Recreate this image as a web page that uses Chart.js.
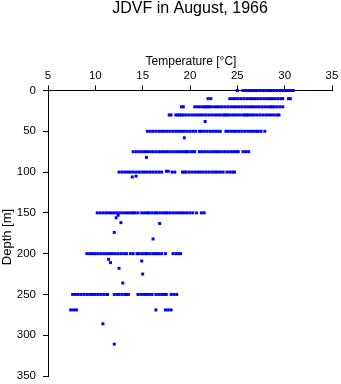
<!DOCTYPE html>
<html>
<head>
<meta charset="utf-8">
<script src="https://cdn.jsdelivr.net/npm/chart.js@4/dist/chart.umd.min.js"></script>
<style>
  body { margin: 0; background: #fff; }
</style>
</head>
<body>
<canvas id="chart" width="341" height="384"></canvas>
<script>
// temperature readings (deg C) at each sampled depth (m)
var depth0   = [25.0, 25.6, 25.9, 26.2, 26.5, 26.8, 27.1, 27.4, 27.7, 28.0, 28.3, 28.6, 28.9, 29.2, 29.5, 29.8, 30.1, 30.4, 30.7, 30.9]
var depth10  = [21.9, 22.2, 24.2, 24.5, 24.8, 25.1, 25.4, 25.7, 26.0, 26.3, 26.6, 26.9, 27.2, 27.5, 27.8, 28.1, 28.4, 28.7, 29.0, 29.3, 29.6, 29.8, 30.4, 30.6]
var depth20  = [19.1, 19.3, 20.5, 20.8, 21.1, 21.4, 21.6, 21.8, 22.0, 22.2, 22.5, 22.8, 23.1, 23.4, 23.7, 24.0, 24.3, 24.6, 24.9, 25.2, 25.5, 25.8, 26.1, 26.4, 26.7, 27.0, 27.3, 27.6, 27.9, 28.2, 28.5, 28.7, 28.9, 29.2, 29.5, 29.8]
var depth30  = [17.8, 18.0, 18.5, 18.7, 18.9, 19.1, 19.3, 19.6, 19.9, 20.2, 20.5, 20.8, 21.1, 21.4, 21.7, 22.0, 22.3, 22.6, 22.9, 23.2, 23.5, 23.7, 23.9, 24.1, 24.4, 24.7, 25.0, 25.3, 25.6, 25.8, 26.0, 26.2, 26.5, 26.8, 27.1, 27.4, 27.7, 28.0, 28.3, 28.6, 28.9, 29.2, 29.4]
var depth50  = [15.5, 15.8, 16.1, 16.4, 16.7, 17.0, 17.3, 17.6, 17.9, 18.2, 18.5, 18.8, 19.1, 19.4, 19.7, 20.0, 20.3, 20.6, 21.0, 21.2, 21.5, 21.8, 22.1, 22.4, 22.7, 23.0, 23.2, 23.8, 24.0, 24.3, 24.6, 24.9, 25.2, 25.5, 25.8, 26.1, 26.4, 26.7, 27.0, 27.2, 27.5, 27.9]
var depth75  = [14.0, 14.3, 14.6, 14.9, 15.2, 15.5, 15.8, 16.1, 16.4, 16.7, 17.0, 17.3, 17.6, 17.9, 18.2, 18.5, 18.8, 19.1, 19.4, 19.6, 19.8, 20.1, 20.3, 20.5, 21.0, 21.3, 21.6, 21.9, 22.2, 22.5, 22.8, 23.1, 23.4, 23.7, 24.0, 24.3, 24.6, 24.9, 25.1, 25.6, 25.9, 26.2]
var depth100 = [12.5, 12.8, 13.1, 13.4, 13.7, 14.0, 14.3, 14.6, 14.9, 15.2, 15.5, 15.8, 16.1, 16.4, 16.7, 17.0, 18.1, 18.4, 19.2, 19.4, 19.6, 19.9, 20.2, 20.5, 20.8, 21.1, 21.4, 21.7, 22.0, 22.3, 22.6, 22.9, 23.2, 23.5, 23.9, 24.2, 24.5, 24.7]
var depth150 = [10.2, 10.5, 10.8, 11.1, 11.4, 11.7, 12.0, 12.3, 12.6, 12.9, 13.2, 13.5, 13.8, 14.0, 14.2, 14.5, 14.9, 15.2, 15.5, 15.7, 16.0, 16.3, 16.5, 16.8, 17.1, 17.4, 17.6, 17.9, 18.2, 18.5, 18.8, 19.1, 19.4, 19.7, 20.0, 20.3, 20.7, 21.2, 21.5]
var depth200 = [9.1, 9.4, 9.7, 10.0, 10.3, 10.6, 10.9, 11.2, 11.5, 11.8, 12.1, 12.4, 12.7, 13.0, 13.3, 13.7, 14.0, 14.4, 14.6, 14.9, 15.2, 15.4, 15.5, 15.8, 16.1, 16.3, 16.5, 16.7, 17.0, 17.4, 18.2, 18.5, 18.8, 19.0]
var depth250 = [7.6, 7.9, 8.2, 8.5, 8.8, 9.1, 9.4, 9.7, 10.0, 10.3, 10.6, 10.9, 11.2, 11.3, 12.0, 12.3, 12.5, 12.8, 13.1, 13.3, 13.5, 14.5, 14.8, 15.1, 15.4, 15.7, 16.0, 16.4, 16.7, 17.0, 17.3, 17.5, 18.0, 18.3, 18.6]
var depth269 = [7.4, 7.7, 8.0, 16.4, 17.4, 17.7, 18.0]

// the odd single readings between the standard depths
var extraTemp  = [21.6, 19.4, 15.4, 17.5, 17.7, 13.9, 14.3, 12.4, 12.2, 12.7, 16.8, 12.0, 16.1, 11.4, 11.6, 14.9, 12.5, 15.0, 12.9, 10.8, 12.0]
var extraDepth = [38, 58, 82, 99, 99, 106, 105, 153, 156, 162, 163, 174, 182, 207, 211, 209, 218, 225, 236, 286, 311]

var tempTicks  = [5, 10, 15, 20, 25, 30, 35]
var depthTicks = [0, 50, 100, 150, 200, 250, 300, 350]

var rows = [
    [0, depth0], [10, depth10], [20, depth20], [30, depth30], [50, depth50],
    [75, depth75], [100, depth100], [150, depth150], [200, depth200],
    [250, depth250], [269, depth269]
]

var points = []
rows.forEach(function (row) {
    row[1].forEach(function (t) {
        points.push({ x: t, y: row[0] })
    })
})
extraTemp.forEach(function (t, i) {
    points.push({ x: t, y: extraDepth[i] })
})

var FONT = '"Liberation Sans", Arial, Helvetica, sans-serif'

// titles drawn by hand so they sit where the original has them
var labelsPlugin = {
    id: 'labels',
    afterDraw: function (chart) {
        var ctx = chart.ctx
        var area = chart.chartArea
        var cx = (area.left + area.right) / 2
        ctx.save()
        ctx.fillStyle = '#000'
        ctx.textAlign = 'center'
        ctx.textBaseline = 'alphabetic'

        ctx.font = '16px ' + FONT
        ctx.fillText('JDVF in August, 1966', cx, 13)

        ctx.font = '12px ' + FONT
        ctx.fillText('Temperature [\u00B0C]', cx + 1, 64.5)

        ctx.translate(10.5, 237)
        ctx.rotate(-Math.PI / 2)
        ctx.font = '13px ' + FONT
        ctx.fillText('Depth [m]', 0, 0)
        ctx.restore()
    }
}

new Chart(document.getElementById('chart').getContext('2d'), {
    type: 'scatter',
    data: {
        datasets: [{
            data: points,
            clip: false,
            pointStyle: 'rect',
            pointRadius: 2.1,
            pointBorderWidth: 0,
            backgroundColor: '#0000ff',
            borderColor: '#0000ff'
        }]
    },
    options: {
        responsive: false,
        animation: false,
        devicePixelRatio: 1,
        layout: { padding: { top: 0, left: 0, right: 9, bottom: 8 } },
        plugins: {
            legend: { display: false },
            tooltip: { enabled: false },
            title: { display: false }
        },
        scales: {
            x: {
                type: 'linear',
                position: 'top',
                min: 5,
                max: 35,
                afterBuildTicks: function (scale) {
                    scale.ticks = tempTicks.map(function (v) { return { value: v } })
                },
                afterFit: function (scale) {
                    scale.height = 90.5
                    scale.paddingLeft = 0
                    scale.paddingRight = 0
                },
                grid: { drawOnChartArea: false, drawTicks: true, tickLength: 5, color: '#000', lineWidth: 1 },
                border: { display: true, color: '#000', width: 1 },
                ticks: { color: '#000', padding: 3, font: { family: FONT, size: 11.5 }, maxRotation: 0 }
            },
            y: {
                type: 'linear',
                position: 'left',
                reverse: true,
                min: 0,
                max: 350,
                afterBuildTicks: function (scale) {
                    scale.ticks = depthTicks.map(function (v) { return { value: v } })
                },
                afterFit: function (scale) {
                    scale.width = 48
                    scale.paddingTop = 0
                    scale.paddingBottom = 0
                },
                grid: { drawOnChartArea: false, drawTicks: true, tickLength: 5, color: '#000', lineWidth: 1 },
                border: { display: true, color: '#000', width: 1 },
                ticks: { color: '#000', padding: 7, font: { family: FONT, size: 11.5 } }
            }
        }
    },
    plugins: [labelsPlugin]
})
</script>
</body>
</html>
